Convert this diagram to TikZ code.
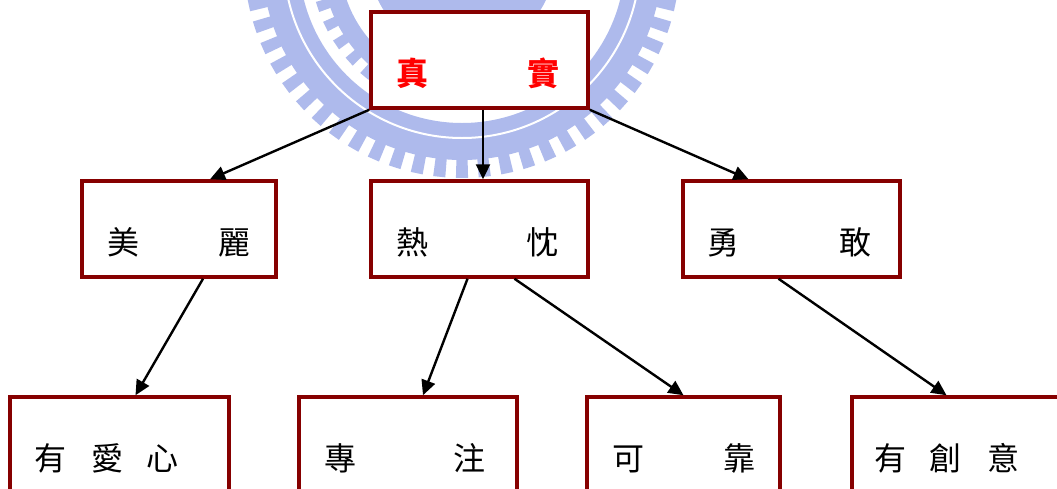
\documentclass[tikz,border=0pt]{standalone}
\usepackage{fontspec}
\newfontfamily\cjk{Noto Sans CJK TC}
\usetikzlibrary{arrows.meta}
\definecolor{boxred}{RGB}{134,0,0}
\definecolor{wm}{RGB}{174,186,236}
\newcommand\chat[2]{\rlap{\hspace*{#1pt}#2}}
\newcommand\boxrow[2]{\makebox[#1pt][l]{#2}}
\tikzset{
  box/.style={draw=boxred, line width=3.5pt, fill=white, minimum height=96pt,
    inner sep=0pt, text height=52pt, text depth=2pt,
    font=\cjk\fontsize{32}{32}\selectfont},
  redbox/.style={box, text=red, font=\cjk\bfseries\fontsize{32}{32}\selectfont},
  arr/.style={line width=2.4pt, -{Triangle[length=15pt,width=14pt]}},
  wmark/.style={fill=wm}
}
\begin{document}
\begin{tikzpicture}[x=1pt,y=-1pt]
\useasboundingbox (0,0) rectangle (1057,488);
\clip (0,0) rectangle (1057,488);
\fill[white] (0,0) rectangle (1057,488);
% watermark (faint gear logo)
\begin{scope}[shift={(462,-40)}]
  \fill[wmark, even odd rule] (0,0) circle (200) (0,0) circle (163);
  \foreach \a in {0,6,...,354}
    \fill[wmark] (\a-1.6:198) -- (\a-1.6:218) -- (\a+1.6:218) -- (\a+1.6:198) -- cycle;
  \draw[white, line width=2pt] (0,0) circle (178);
  \fill[wmark] (120:122) arc (120:165:122) -- (165:140) arc (165:120:140) -- cycle;
  \foreach \a in {122,130,...,162}
    \fill[wmark] (\a-2:139) -- (\a-2:152) -- (\a+2:152) -- (\a+2:139) -- cycle;
  \fill[wmark] (0,0) circle (93);
\end{scope}
% boxes
\node[redbox] (top) at (479.5,60) {\boxrow{217}{\chat{25}{真}\chat{156}{實}}};
\node[box] (mei) at (179,229) {\boxrow{194}{\chat{25}{美}\chat{137}{麗}}};
\node[box] (re) at (479.5,229) {\boxrow{217}{\chat{25}{熱}\chat{155}{忱}}};
\node[box] (yong) at (791.5,229) {\boxrow{217}{\chat{24}{勇}\chat{156}{敢}}};
\node[box] (ai) at (119.5,445) {\boxrow{219}{\chat{24}{有}\chat{82}{愛}\chat{136}{心}}};
\node[box] (zhuan) at (408,445) {\boxrow{218}{\chat{25}{專}\chat{154}{注}}};
\node[box] (kao) at (683.5,445) {\boxrow{193}{\chat{25}{可}\chat{137}{靠}}};
\node[box] (chuang) at (960.5,445) {\boxrow{217}{\chat{22}{有}\chat{78}{創}\chat{136}{意}}};
% connectors
\draw[arr] (top.south west) -- ([xshift=31pt]mei.north);
\draw[arr] ([xshift=3.5pt]top.south) -- ([xshift=3.5pt]re.north);
\draw[arr] (top.south east) -- ([xshift=-43pt]yong.north);
\draw[arr] ([xshift=24pt]mei.south) -- ([xshift=16pt]ai.north);
\draw[arr] ([xshift=-12pt]re.south) -- ([xshift=15pt]zhuan.north);
\draw[arr] ([xshift=35pt]re.south) -- (kao.north);
\draw[arr] ([xshift=-13pt]yong.south) -- ([xshift=-14pt]chuang.north);
\end{tikzpicture}
\end{document}
